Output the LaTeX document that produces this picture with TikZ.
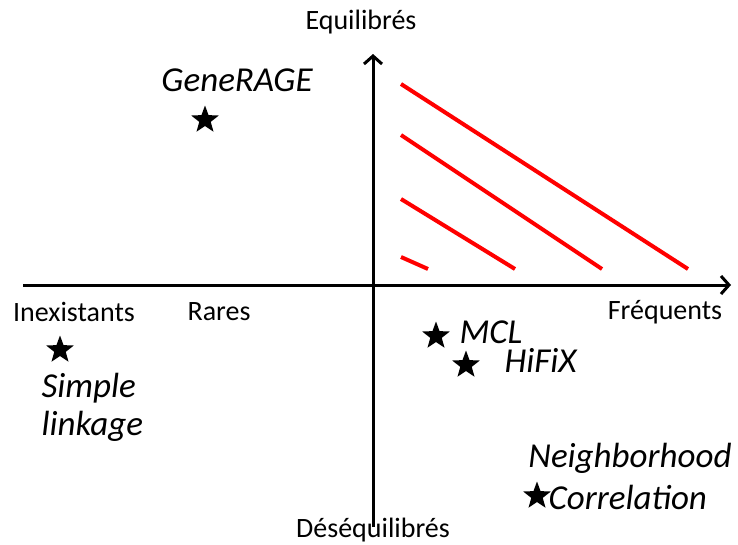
\documentclass[tikz,border=0pt]{standalone}
\usepackage{fontspec}
\setmainfont{Carlito}
\usetikzlibrary{shapes.geometric,arrows.meta}
\tikzset{
  axe/.style={line width=3pt, -{Straight Barb[length=8pt,width=18pt,line width=3pt]}},
  zone/.style={line width=4pt, red},
  etoile/.style={star, star points=5, star point ratio=2.4, fill, inner sep=0pt, minimum size=29pt},
  axlab/.style={font=\fontsize{28}{30}\selectfont},
  meth/.style={font=\fontsize{35}{38}\selectfont\itshape}
}
\begin{document}
\begin{tikzpicture}[x=1pt,y=-1pt]
\useasboundingbox (0,0) rectangle (738,544);
% axes
\coordinate (xg) at (23,285);
\coordinate (xd) at (731,285);
\coordinate (yb) at (373,527);
\coordinate (yh) at (373,54);
\draw[axe](xg) -- (xd);
\draw[axe](yb) -- (yh);
% zone rouge
\coordinate (r1a) at (401,84);  \coordinate (r1b) at (688,269);
\coordinate (r2a) at (401,135); \coordinate (r2b) at (602,269);
\coordinate (r3a) at (401,199); \coordinate (r3b) at (515,269);
\coordinate (r4a) at (401,257); \coordinate (r4b) at (428,269);
\draw[zone](r1a) -- (r1b);
\draw[zone](r2a) -- (r2b);
\draw[zone](r3a) -- (r3b);
\draw[zone](r4a) -- (r4b);
% libelles des axes
\node[axlab] (lab0) at (361,22){Equilibrés};
\node[axlab] (lab1) at (373,530){Déséquilibrés};
\node[axlab] (lab2) at (74,312){Inexistants};
\node[axlab] (lab3) at (219,312){Rares};
\node[axlab] (lab4) at (665,312){Fréquents};
% methodes
\node[etoile] (s0) at (205,120){};
\node[meth] (m0) at (237,80){GeneRAGE};
\node[etoile] (s1) at (60,350){};
\node[meth, align=left, anchor=west] (m1) at (38,407){Simple\\linkage};
\node[etoile] (s2) at (436,336){};
\node[meth, anchor=west] (m2) at (456,332){MCL};
\node[etoile] (s3) at (466,365){};
\node[meth, anchor=west] (m3) at (501,360){HiFiX};
\node[meth] (m4) at (630,458){Neighborhood};
\node[etoile] (s4) at (537,496){};
\node[meth, anchor=west] (m5) at (545,497){Correlation};
\end{tikzpicture}
\end{document}
